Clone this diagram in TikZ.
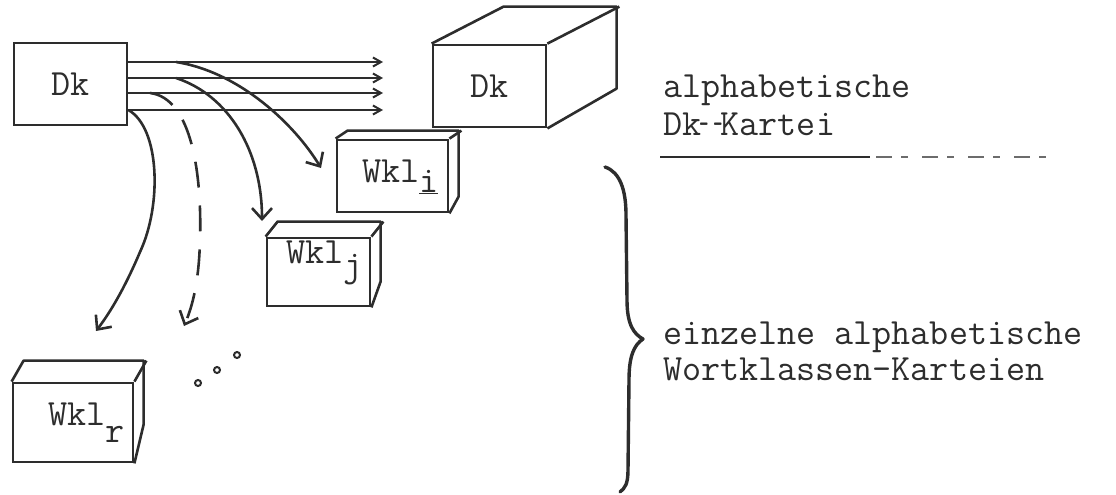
\documentclass[tikz,border=0pt]{standalone}
\usepackage{fontspec}
\usetikzlibrary{arrows.meta}
\definecolor{ink}{RGB}{45,45,45}
\begin{document}
\begin{tikzpicture}[x=1pt,y=-1pt,
  every node/.style={font=\ttfamily\fontsize{37}{42}\selectfont, text=ink, inner sep=0pt},
  box/.style={draw=ink, line width=2.8pt},
  cubeline/.style={draw=ink, line width=2.6pt, line join=round},
  harrow/.style={draw=ink, line width=2.2pt, -{Straight Barb[length=8pt,width=9pt,line width=2pt]}},
  carrow/.style={draw=ink, line width=2.6pt, -{Straight Barb[length=11pt,width=20pt,line width=2.6pt]}},
  bracestyle/.style={draw=ink, line width=3.4pt, line cap=round, line join=round}]
\useasboundingbox (0,0) rectangle (1116,495);

% left Dk box
\node[box, minimum width=113pt, minimum height=82pt] (dk1) at (70.5,84) {Dk};

% big Dk cube
\node[box, minimum width=113pt, minimum height=82pt] (dk2) at (489.5,86) {Dk};
\draw[cubeline] (dk2.north west) -- ++(72,-37) -- ++(113,0) -- ++(0,82) -- (dk2.south east);
\draw[cubeline] (dk2.north east) -- ++(72,-37);

% Wkl_i
\node[box, minimum width=111pt, minimum height=72pt] (wi) at (392.5,176) {};
\draw[cubeline] (wi.north west) -- ++(12,-8) -- ++(111,0) -- ++(0,66) -- (wi.south east);
\draw[cubeline] (wi.north east) -- ++(12,-8);
\node[anchor=base west] (ti) at (362,182) {Wkl\raisebox{-10pt}{\underline{i}}};

% Wkl_j
\node[box, minimum width=103pt, minimum height=68pt] (wj) at (318.5,272) {};
\draw[cubeline] (wj.north west) -- ++(12,-15) -- ++(103,0) -- ++(0,60) -- (wj.south east);
\draw[cubeline] (wj.north east) -- ++(12,-15);
\node[anchor=base west] (tj) at (286,263) {Wkl\raisebox{-13pt}{j}};

% Wkl_r
\node[box, minimum width=120pt, minimum height=79pt] (wr) at (73,422.5) {};
\draw[cubeline] (wr.north west) -- ++(12,-21) -- ++(120,0) -- ++(0,64) -- (wr.south east);
\draw[cubeline] (wr.north east) -- ++(12,-21);
\node[anchor=base west] (tr) at (48,425) {Wkl\raisebox{-17pt}{r}};

% horizontal arrows
\coordinate (h1) at (383,62);
\coordinate (h2) at (383,78);
\coordinate (h3) at (383,93);
\coordinate (h4) at (383,110);
\draw[harrow] (dk1.east |- h1) -- (h1);
\draw[harrow] (dk1.east |- h2) -- (h2);
\draw[harrow] (dk1.east |- h3) -- (h3);
\draw[harrow] (dk1.east |- h4) -- (h4);

% curved arrows
\coordinate (sa) at (176,62);
\coordinate (ea) at (321,168);
\coordinate (sb) at (176,78);
\coordinate (eb) at (262,221);
\coordinate (sc) at (150,93);
\coordinate (ec) at (184,326);
\coordinate (ed) at (96,331);
\draw[carrow] (sa) .. controls (240,72) and (295,125) .. (ea);
\draw[carrow] (sb) .. controls (228,95) and (262,150) .. (eb);
\draw[carrow, dash pattern=on 26pt off 18pt] (sc) .. controls (192,98) and (202,175) .. (200,240) .. controls (199,280) and (193,305) .. (ec);
\draw[carrow] (dk1.east |- h4) .. controls (160,128) and (162,205) .. (140,252) .. controls (126,285) and (112,310) .. (ed);

% dots
\draw[ink, line width=2pt] (198,383) circle[radius=3pt];
\draw[ink, line width=2pt] (217,370) circle[radius=3pt];
\draw[ink, line width=2pt] (237,355) circle[radius=3pt];

% right texts
\node[anchor=base west] (t1) at (663,97) {alphabetische};
\node[anchor=base west] (t2) at (663,135) {Dk\makebox[0.525em][c]{\scalebox{0.5}[1]{-\kern0.25em-}}Kartei};
\draw[ink, line width=1.8pt] (660,157) -- (870,157);
\draw[ink!70, line width=1.8pt, dash pattern=on 16pt off 9pt on 7pt off 14pt] (876,157) -- (1058,157);
\node[anchor=base west] (t3) at (663,344) {einzelne alphabetische};
\node[anchor=base west] (t4) at (663,380) {Wortklassen-Karteien};

% brace
\draw[bracestyle] (605,167) .. controls (620,172) and (626,190) .. (626,215) -- (627,300) .. controls (627,325) and (634,334) .. (643,339) .. controls (634,345) and (629,356) .. (629,380) -- (628,470) .. controls (628,484) and (625,488) .. (620,492);
\end{tikzpicture}
\end{document}
